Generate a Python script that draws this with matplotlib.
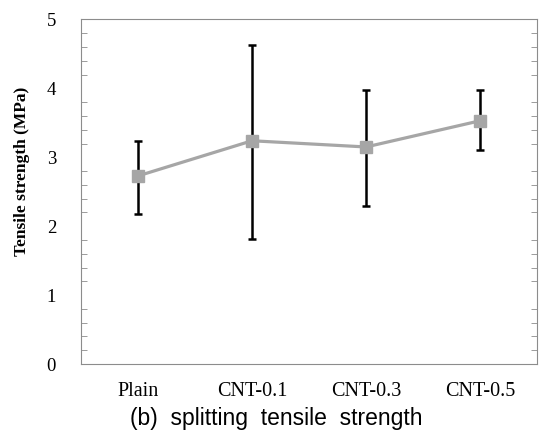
import matplotlib
matplotlib.use("Agg")
import matplotlib.pyplot as plt
from matplotlib.ticker import MultipleLocator

# splitting tensile strength
labels = ["Plain", "CNT-0.1", "CNT-0.3", "CNT-0.5"]
strength = [2.73, 3.24, 3.15, 3.53]
err_low = [2.17, 1.82, 2.30, 3.10]
err_high = [3.24, 4.63, 3.97, 3.98]

yerr = [[s - lo for s, lo in zip(strength, err_low)],
        [hi - s for s, hi in zip(strength, err_high)]]

fig = plt.figure(figsize=(5.41, 4.36), dpi=100)
ax = fig.add_axes([81 / 541, 1 - 364 / 436, 456 / 541, 344.5 / 436])

x = range(len(labels))
ax.errorbar(x, strength, yerr=yerr, fmt="none", ecolor="black",
            elinewidth=1.8, capsize=2.8, capthick=1.8, zorder=2)
ax.plot(x, strength, color="#a6a6a6", linewidth=2.3, marker="s",
        markersize=8.5, zorder=3)

ax.set_xlim(-0.5, 3.5)
ax.set_ylim(0, 5)
ax.set_xticks(list(x))
ax.set_xticklabels(labels, family="Liberation Serif", fontsize=14.5)
ax.yaxis.set_major_locator(MultipleLocator(1))
ax.yaxis.set_minor_locator(MultipleLocator(0.2))
ax.tick_params(axis="x", length=0, pad=13)
ax.tick_params(axis="y", which="both", direction="in", right=True,
               color="#8c8c8c", labelsize=13.5, pad=18)
ax.tick_params(axis="y", which="major", length=0)
ax.tick_params(axis="y", which="minor", length=4)
for lab in ax.get_yticklabels():
    lab.set_family("Liberation Serif")
for sp in ax.spines.values():
    sp.set_color("#8c8c8c")

# y label sits a bit above the axes centre in the original
fig.text(22 / 541, 1 - 171 / 436, "Tensile strength (MPa)",
         rotation=90, ha="center", va="center", family="Liberation Serif",
         fontweight="bold", fontsize=12.5)

fig.text(276 / 541, 1 - 418 / 436, "(b)  splitting  tensile  strength",
         ha="center", va="center", family="Liberation Sans", fontsize=16.5)

fig.savefig("out.png", dpi=100)
